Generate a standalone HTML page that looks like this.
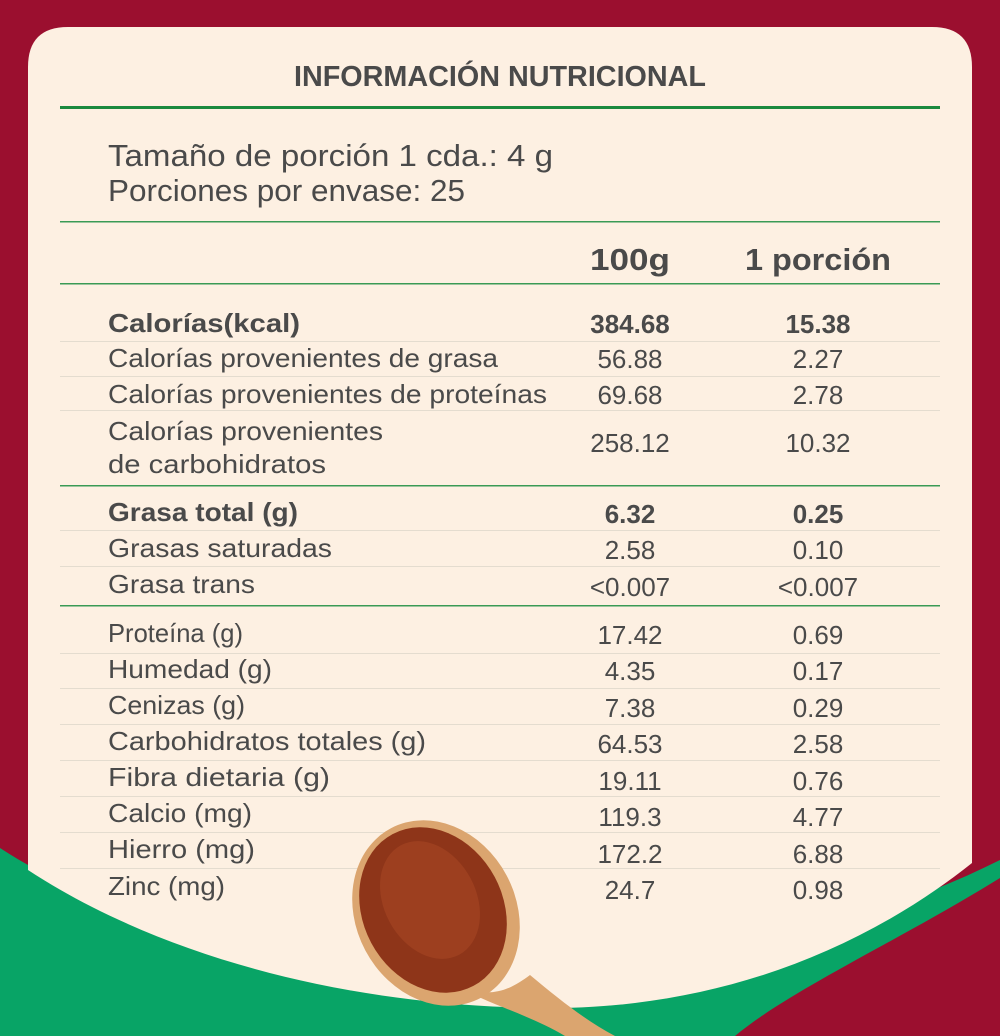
<!DOCTYPE html>
<html><head><meta charset="utf-8"><style>
html,body{margin:0;padding:0;background:#9b0f2f;}
svg{display:block}
text{font-family:"Liberation Sans",sans-serif;fill:#4a4a4a;}
.l{font-size:26px}
.n{font-size:26px;text-anchor:middle}
.b{font-weight:bold}
</style></head><body>
<svg width="1000" height="1036" viewBox="0 0 1000 1036" xmlns="http://www.w3.org/2000/svg">
<rect width="1000" height="1036" fill="#9b0f2f"/>
<path d="M0,848 C250,1010 700,1010 1000,860 L1000,878 C900,940 790,990 735,1036 L0,1036 Z" fill="#08a466"/>
<path d="M68,27 H932 Q972,27 972,67 V863 C850,960 700,1010 540,1008 C330,1005 150,950 28,870 V67 Q28,27 68,27 Z" fill="#fdf0e2"/>
<text x="500" y="86" text-anchor="middle" class="b" style="font-size:29px" textLength="412" lengthAdjust="spacingAndGlyphs">INFORMACIÓN NUTRICIONAL</text>
<rect x="60" y="106" width="880" height="3" fill="#1a8a3e"/>
<text x="108" y="166" style="font-size:31px" textLength="445" lengthAdjust="spacingAndGlyphs">Tamaño de porción 1 cda.: 4 g</text>
<text x="108" y="201" style="font-size:31px" textLength="357" lengthAdjust="spacingAndGlyphs">Porciones por envase: 25</text>
<rect x="60" y="221" width="880" height="1.5" fill="#3a9a55"/>
<text x="630" y="270" class="n b" style="font-size:31px" textLength="80" lengthAdjust="spacingAndGlyphs">100g</text>
<text x="818" y="270" class="n b" style="font-size:31px" textLength="146" lengthAdjust="spacingAndGlyphs">1 porción</text>
<rect x="60" y="283" width="880" height="1.5" fill="#3a9a55"/>
<g fill="#e4dccf">
<rect x="60" y="341" width="880" height="1"/><rect x="60" y="376" width="880" height="1"/><rect x="60" y="410" width="880" height="1"/>
<rect x="60" y="530" width="880" height="1"/><rect x="60" y="566" width="880" height="1"/>
<rect x="60" y="653" width="880" height="1"/><rect x="60" y="688" width="880" height="1"/><rect x="60" y="724" width="880" height="1"/><rect x="60" y="760" width="880" height="1"/><rect x="60" y="796" width="880" height="1"/><rect x="60" y="832" width="880" height="1"/><rect x="60" y="868" width="880" height="1"/>
</g>
<rect x="60" y="485" width="880" height="1.5" fill="#3a9a55"/>
<rect x="60" y="605" width="880" height="1.5" fill="#3a9a55"/>
<text x="108" y="332" class="l b" textLength="192" lengthAdjust="spacingAndGlyphs">Calorías(kcal)</text>
<text x="630" y="333" class="n b">384.68</text><text x="818" y="333" class="n b">15.38</text>
<text x="108" y="367" class="l" textLength="390" lengthAdjust="spacingAndGlyphs">Calorías provenientes de grasa</text>
<text x="630" y="368" class="n">56.88</text><text x="818" y="368" class="n">2.27</text>
<text x="108" y="403" class="l" textLength="439" lengthAdjust="spacingAndGlyphs">Calorías provenientes de proteínas</text>
<text x="630" y="404" class="n">69.68</text><text x="818" y="404" class="n">2.78</text>
<text x="108" y="440" class="l" textLength="275" lengthAdjust="spacingAndGlyphs">Calorías provenientes</text>
<text x="108" y="473" class="l" textLength="218" lengthAdjust="spacingAndGlyphs">de carbohidratos</text>
<text x="630" y="452" class="n">258.12</text><text x="818" y="452" class="n">10.32</text>
<text x="108" y="521" class="l b" textLength="190" lengthAdjust="spacingAndGlyphs">Grasa total (g)</text>
<text x="630" y="523" class="n b">6.32</text><text x="818" y="523" class="n b">0.25</text>
<text x="108" y="557" class="l" textLength="224" lengthAdjust="spacingAndGlyphs">Grasas saturadas</text>
<text x="630" y="559" class="n">2.58</text><text x="818" y="559" class="n">0.10</text>
<text x="108" y="593" class="l" textLength="147" lengthAdjust="spacingAndGlyphs">Grasa trans</text>
<text x="630" y="596" class="n">&lt;0.007</text><text x="818" y="596" class="n">&lt;0.007</text>
<text x="108" y="642" class="l" textLength="135" lengthAdjust="spacingAndGlyphs">Proteína (g)</text>
<text x="630" y="644" class="n">17.42</text><text x="818" y="644" class="n">0.69</text>
<text x="108" y="678" class="l" textLength="164" lengthAdjust="spacingAndGlyphs">Humedad (g)</text>
<text x="630" y="680" class="n">4.35</text><text x="818" y="680" class="n">0.17</text>
<text x="108" y="714" class="l" textLength="137" lengthAdjust="spacingAndGlyphs">Cenizas (g)</text>
<text x="630" y="717" class="n">7.38</text><text x="818" y="717" class="n">0.29</text>
<text x="108" y="750" class="l" textLength="318" lengthAdjust="spacingAndGlyphs">Carbohidratos totales (g)</text>
<text x="630" y="753" class="n">64.53</text><text x="818" y="753" class="n">2.58</text>
<text x="108" y="786" class="l" textLength="222" lengthAdjust="spacingAndGlyphs">Fibra dietaria (g)</text>
<text x="630" y="790" class="n">19.11</text><text x="818" y="790" class="n">0.76</text>
<text x="108" y="822" class="l" textLength="144" lengthAdjust="spacingAndGlyphs">Calcio (mg)</text>
<text x="630" y="826" class="n">119.3</text><text x="818" y="826" class="n">4.77</text>
<text x="108" y="858" class="l" textLength="147" lengthAdjust="spacingAndGlyphs">Hierro (mg)</text>
<text x="630" y="863" class="n">172.2</text><text x="818" y="863" class="n">6.88</text>
<text x="108" y="895" class="l" textLength="117" lengthAdjust="spacingAndGlyphs">Zinc (mg)</text>
<text x="630" y="899" class="n">24.7</text><text x="818" y="899" class="n">0.98</text>
<path d="M455,985 C490,1000 510,990 530,975 C560,1000 585,1020 615,1036 L565,1036 C530,1015 490,1005 455,985 Z" fill="#dba56f"/>
<ellipse cx="436" cy="913" rx="96" ry="80" transform="rotate(62 436 913)" fill="#dba56f"/>
<ellipse cx="433" cy="910" rx="86" ry="70" transform="rotate(62 433 910)" fill="#8e3519"/>
<ellipse cx="430" cy="900" rx="62" ry="46" transform="rotate(62 430 900)" fill="#a44522" opacity="0.7"/>
</svg>
</body></html>
